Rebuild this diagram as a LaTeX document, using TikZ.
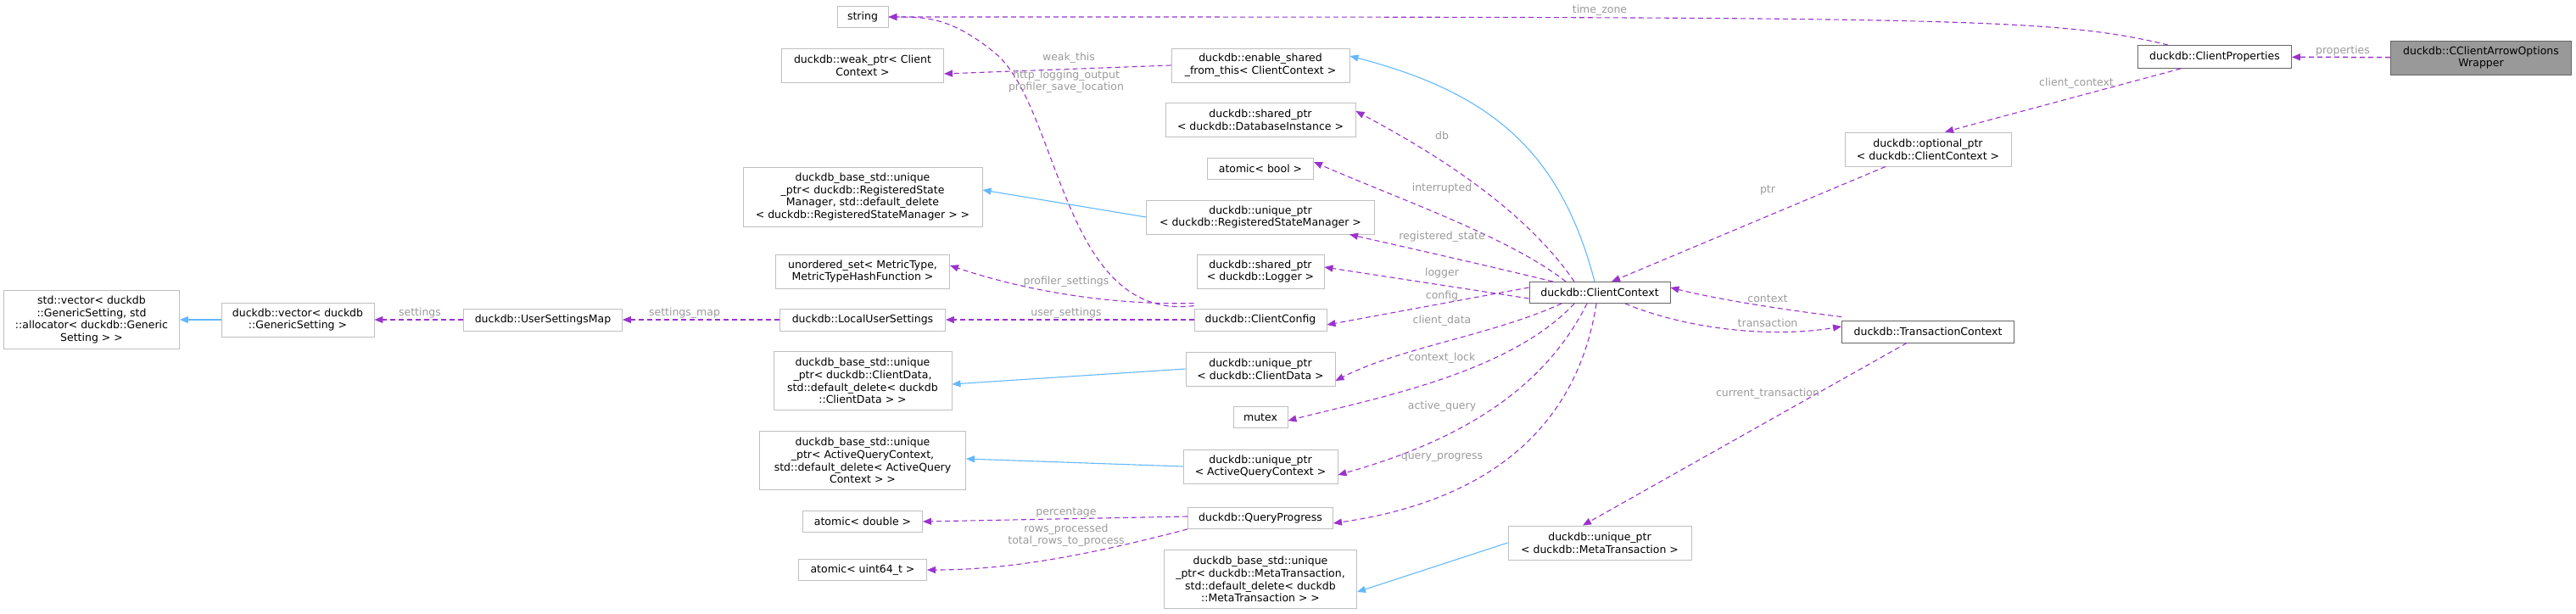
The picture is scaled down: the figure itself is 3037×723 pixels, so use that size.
\documentclass[tikz,border=0pt]{standalone}
\usepackage{fontspec}
\setmainfont{DejaVu Sans}
\usetikzlibrary{arrows.meta}
\definecolor{pur}{HTML}{9A32CD}
\definecolor{blu}{HTML}{63B8FF}
\definecolor{lbl}{HTML}{9A9A9A}
\definecolor{bdl}{HTML}{BFBFBF}
\definecolor{bdd}{HTML}{666666}
\begin{document}
\begin{tikzpicture}[x=1pt,y=-1pt,
  box/.style={draw=bdl,fill=white,line width=0.9pt,inner sep=1pt,align=center,font=\fontsize{12.5}{14.8}\selectfont,anchor=center},
  dbox/.style={box,draw=bdd},
  use/.style={draw=pur,line width=1.1pt,dash pattern=on 6pt off 4pt,-{Triangle[length=10pt,width=8pt]}},
  inh/.style={draw=blu,line width=1.1pt,-{Triangle[length=10pt,width=8pt]}},
  lb/.style={text=lbl,font=\fontsize{12.5}{14}\selectfont,inner sep=0pt,align=center}]
\useasboundingbox (0,0) rectangle (3037,723);
% nodes
\node[box,minimum width=207,minimum height=69] (sv) at (108,377) {std::vector< duckdb\\::GenericSetting, std\\::allocator< duckdb::Generic\\Setting > >};
\node[box,minimum width=180,minimum height=40] (dv) at (351,377) {duckdb::vector< duckdb\\::GenericSetting >};
\node[box,minimum width=187,minimum height=26] (usm) at (640,377) {duckdb::UserSettingsMap};
\node[box,minimum width=195,minimum height=26] (lus) at (1017,377) {duckdb::LocalUserSettings};
\node[box,minimum width=60,minimum height=25] (str) at (1017,20) {string};
\node[box,minimum width=191,minimum height=40] (wp) at (1017,77) {duckdb::weak\_ptr< Client\\Context >};
\node[box,minimum width=282,minimum height=70] (brsm) at (1017,232) {duckdb\_base\_std::unique\\\_ptr< duckdb::RegisteredState\\Manager, std::default\_delete\\< duckdb::RegisteredStateManager > >};
\node[box,minimum width=205,minimum height=40] (us) at (1017,320) {unordered\_set< MetricType,\\MetricTypeHashFunction >};
\node[box,minimum width=210,minimum height=69] (bcd) at (1017,449) {duckdb\_base\_std::unique\\\_ptr< duckdb::ClientData,\\std::default\_delete< duckdb\\::ClientData > >};
\node[box,minimum width=243,minimum height=69] (baq) at (1017,543) {duckdb\_base\_std::unique\\\_ptr< ActiveQueryContext,\\std::default\_delete< ActiveQuery\\Context > >};
\node[box,minimum width=141,minimum height=25] (ad) at (1017,615) {atomic< double >};
\node[box,minimum width=151,minimum height=25] (au) at (1017,672) {atomic< uint64\_t >};
\node[box,minimum width=210,minimum height=40] (es) at (1486,77) {duckdb::enable\_shared\\\_from\_this< ClientContext >};
\node[box,minimum width=224,minimum height=40] (sdb) at (1486,141) {duckdb::shared\_ptr\\< duckdb::DatabaseInstance >};
\node[box,minimum width=125,minimum height=25] (ab) at (1486,199) {atomic< bool >};
\node[box,minimum width=269,minimum height=40] (ursm) at (1486,256) {duckdb::unique\_ptr\\< duckdb::RegisteredStateManager >};
\node[box,minimum width=150,minimum height=40] (slg) at (1486,320) {duckdb::shared\_ptr\\< duckdb::Logger >};
\node[box,minimum width=156,minimum height=26] (ccf) at (1486,377) {duckdb::ClientConfig};
\node[box,minimum width=176,minimum height=40] (ucd) at (1486,435) {duckdb::unique\_ptr\\< duckdb::ClientData >};
\node[box,minimum width=64,minimum height=25] (mtx) at (1486,492) {mutex};
\node[box,minimum width=182,minimum height=40] (uaq) at (1486,550) {duckdb::unique\_ptr\\< ActiveQueryContext >};
\node[box,minimum width=171,minimum height=25] (qp) at (1486,611) {duckdb::QueryProgress};
\node[box,minimum width=227,minimum height=69] (bmt) at (1486,683) {duckdb\_base\_std::unique\\\_ptr< duckdb::MetaTransaction,\\std::default\_delete< duckdb\\::MetaTransaction > >};
\node[box,minimum width=216,minimum height=40] (umt) at (1886,640) {duckdb::unique\_ptr\\< duckdb::MetaTransaction >};
\node[dbox,minimum width=166,minimum height=25] (cc) at (1886,345) {duckdb::ClientContext};
\node[dbox,minimum width=203,minimum height=26] (tc) at (2273,391) {duckdb::TransactionContext};
\node[box,minimum width=196,minimum height=40] (op) at (2273,176) {duckdb::optional\_ptr\\< duckdb::ClientContext >};
\node[dbox,minimum width=181,minimum height=27] (cp) at (2611,67) {duckdb::ClientProperties};
\node[dbox,fill=black!40,minimum width=213,minimum height=40] (w) at (2925,68) {duckdb::CClientArrowOptions\\Wrapper};
% inheritance
\draw[inh] (dv) -- (sv);
\draw[inh] (ursm.west) -- ([yshift=8]brsm.east);
\draw[inh] (ucd.west) -- ([yshift=-4]bcd.east);
\draw[inh] (uaq.west) -- ([yshift=2]baq.east);
\draw[inh] (umt.west) -- ([yshift=-15]bmt.east);
\draw[inh] ([xshift=-6]cc.north) .. controls (1840,180) and (1760,110) .. ([yshift=11]es.east);
% usage
\draw[use,line width=1.5pt] (w) -- (cp);
\draw[use] ([xshift=-55]cp.north) .. controls (2420,20) and (2300,20) .. (str.east);
\draw[use] ([xshift=-40]cp.south) -- ([xshift=20]op.north);
\draw[use] ([xshift=-50]op.south) -- ([xshift=14]cc.north);
\draw[use] ([yshift=4]tc.north west) .. controls (2100,365) and (2020,352) .. ([yshift=6]cc.east);
\draw[use] ([xshift=30]cc.south) .. controls (1980,385) and (2080,400) .. ([yshift=6]tc.west);
\draw[use] ([xshift=-25]tc.south) -- ([xshift=-20]umt.north);
\draw[use] ([xshift=-30]cc.north) .. controls (1800,250) and (1700,185) .. ([yshift=10]sdb.east);
\draw[use] ([xshift=-40]cc.north) .. controls (1780,280) and (1650,235) .. ([yshift=8]ab.east);
\draw[use] ([xshift=-55]cc.north) .. controls (1740,310) and (1650,290) .. ([xshift=-30]ursm.south east);
\draw[use] ([yshift=-7]cc.west) -- ([yshift=5]slg.east);
\draw[use] ([yshift=6]cc.west) -- ([yshift=-6]ccf.east);
\draw[use] ([xshift=-45]cc.south) .. controls (1760,395) and (1650,410) .. ([yshift=-14]ucd.east);
\draw[use] ([xshift=-30]cc.south) .. controls (1780,440) and (1620,470) .. ([yshift=-4]mtx.east);
\draw[use] ([xshift=-15]cc.south) .. controls (1820,460) and (1720,520) .. ([yshift=-10]uaq.east);
\draw[use] ([xshift=-4]cc.south) .. controls (1860,500) and (1760,590) .. ([yshift=-6]qp.east);
\draw[use] (es.west) -- ([yshift=-10]wp.east);
\draw[use] ([yshift=6]ccf.north west) .. controls (1300,360) and (1200,340) .. ([yshift=7]us.east);
\draw[use] ([yshift=3]ccf.north west) .. controls (1250,380) and (1250,120) .. (1170,60) .. controls (1120,20) and (1090,20) .. (str.east);
\draw[use] (ccf.west) -- (lus.east);
\draw[use] (lus.west) -- (usm.east);
\draw[use] (usm.west) -- (dv.east);
\draw[use] ([yshift=2]qp.west) -- (ad.east);
\draw[use] (qp.south west) .. controls (1300,650) and (1200,672) .. (au.east);
% labels
\node[lb] at (495,369) {settings};
\node[lb] at (807,369) {settings\_map};
\node[lb] at (1886,12) {time\_zone};
\node[lb] at (1260,68) {weak\_this};
\node[lb] at (1257,96) {http\_logging\_output\\profiler\_save\_location};
\node[lb] at (1700,160) {db};
\node[lb] at (1700,222) {interrupted};
\node[lb] at (1700,279) {registered\_state};
\node[lb] at (1700,322) {logger};
\node[lb] at (1700,349) {config};
\node[lb] at (1700,378) {client\_data};
\node[lb] at (1700,422) {context\_lock};
\node[lb] at (1700,479) {active\_query};
\node[lb] at (1700,539) {query\_progress};
\node[lb] at (1257,332) {profiler\_settings};
\node[lb] at (1257,369) {user\_settings};
\node[lb] at (1257,604) {percentage};
\node[lb] at (1257,631) {rows\_processed\\total\_rows\_to\_process};
\node[lb] at (2762,60) {properties};
\node[lb] at (2448,98) {client\_context};
\node[lb] at (2084,224) {ptr};
\node[lb] at (2084,352) {context};
\node[lb] at (2084,381) {transaction};
\node[lb] at (2084,464) {current\_transaction};
\end{tikzpicture}
\end{document}
